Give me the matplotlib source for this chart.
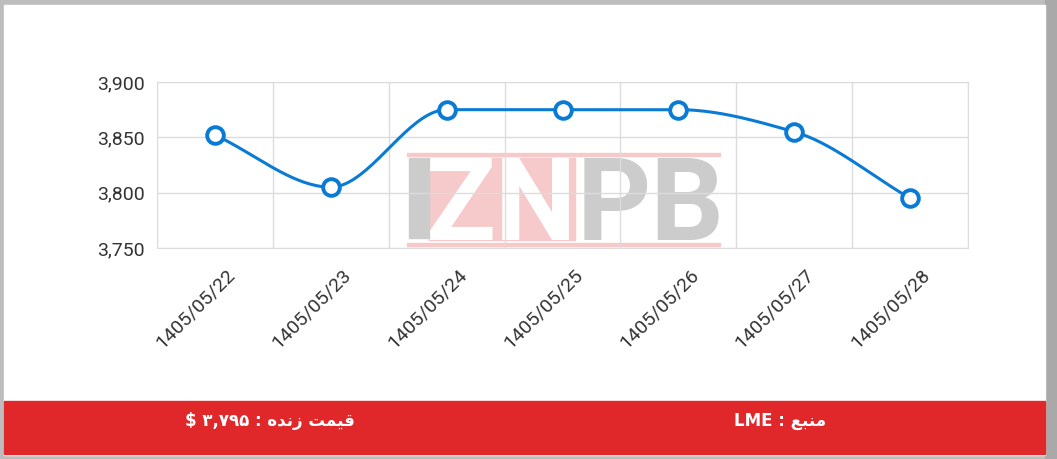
import matplotlib
matplotlib.use('Agg')
import matplotlib.pyplot as plt
import matplotlib.transforms as mtransforms
import numpy as np
from matplotlib.patches import Rectangle

# data
dates = ['1405/05/22', '1405/05/23', '1405/05/24', '1405/05/25',
         '1405/05/26', '1405/05/27', '1405/05/28']
prices = [3852, 3805, 3875, 3875, 3875, 3855, 3795]
y_ticks = [3750, 3800, 3850, 3900]

# footer text (Persian, pre-shaped into presentation forms, visual order)
live_label = '$ \u06f3,\u06f7\u06f9\u06f5 : ' + '\uFEE9\uFEAA\uFEE7\uFEAF' + ' ' + '\uFE96\uFEE4\uFEF4\uFED7'
source_label = 'LME : ' + '\uFECA\uFE92\uFEE8\uFEE3'

W, H = 1057, 459
fig = plt.figure(figsize=(W / 100, H / 100), dpi=100)

# background layer in pixel coordinates
bg = fig.add_axes([0, 0, 1, 1], zorder=0)
bg.set_xlim(0, W)
bg.set_ylim(H, 0)
bg.axis('off')
bg.add_patch(Rectangle((0, 0), W, H, color='#bdbdbd'))
bg.add_patch(Rectangle((1045, 0), 12, H, color='#a9a9a9'))
bg.add_patch(Rectangle((4, 5), 1041, 450, color='white'))
bg.add_patch(Rectangle((4, 401), 1041, 53, color='#e0282b'))
bg.text(270, 421, live_label, color='white', fontsize=12, fontweight='bold',
        ha='center', va='center', family='DejaVu Sans')
bg.text(780, 421, source_label, color='white', fontsize=12, fontweight='bold',
        ha='center', va='center', family='DejaVu Sans')

# watermark
pink = '#f6caca'
bg.add_patch(Rectangle((407, 153), 313, 3, color=pink))
bg.add_patch(Rectangle((407, 243), 313, 3, color=pink))
bg.add_patch(Rectangle((429, 158), 146, 82, color=pink))
bg.add_patch(Rectangle((409, 158), 20, 80, color='#cccccc'))
bg.text(502, 240, 'ZN', color='white', fontsize=83, fontweight='bold',
        ha='center', va='baseline', family='Roboto')
bg.text(651, 240, 'PB', color='#cccccc', fontsize=83, fontweight='bold',
        ha='center', va='baseline', family='Roboto')

# chart
left, right, top, bottom = 157, 968, 82, 248
ax = fig.add_axes([left / W, 1 - bottom / H, (right - left) / W, (bottom - top) / H],
                  zorder=1)
ax.patch.set_alpha(0)

x = np.arange(len(prices))
y = np.array(prices, dtype=float)

# monotone cubic interpolation (Fritsch-Carlson)
h = np.diff(x)
d = np.diff(y) / h
m = np.zeros_like(y)
m[0], m[-1] = d[0], d[-1]
for i in range(1, len(y) - 1):
    if d[i - 1] * d[i] <= 0:
        m[i] = 0
    else:
        m[i] = 2 / (1 / d[i - 1] + 1 / d[i])
xs, ys = [], []
for i in range(len(y) - 1):
    t = np.linspace(0, 1, 40)
    h00 = 2 * t**3 - 3 * t**2 + 1
    h10 = t**3 - 2 * t**2 + t
    h01 = -2 * t**3 + 3 * t**2
    h11 = t**3 - t**2
    xs.append(x[i] + t * h[i])
    ys.append(h00 * y[i] + h10 * h[i] * m[i] + h01 * y[i + 1] + h11 * h[i] * m[i + 1])
ax.plot(np.concatenate(xs), np.concatenate(ys), color='#0a7bd5', lw=2.2, zorder=3)
ax.plot(x, y, 'o', ms=12, mfc='white', mec='#0a7bd5', mew=2.8, zorder=4)

ax.set_xlim(-0.5, len(prices) - 0.5)
ax.set_ylim(3750, 3900)
ax.set_yticks(y_ticks)
ax.set_yticklabels([f'{v:,}' for v in y_ticks], fontsize=14, family='Roboto', color='#333333')
ax.set_xticks(np.arange(len(prices) + 1) - 0.5, minor=False)
ax.set_xticklabels([])
ax.set_xticks(x, minor=True)
ax.set_xticklabels(dates, minor=True, rotation=45, ha='right', rotation_mode='anchor',
                   fontsize=14, family='Roboto', color='#333333')
ax.tick_params(axis='x', which='both', length=0, pad=13)
ax.tick_params(axis='y', length=0, pad=9)
shift = mtransforms.ScaledTranslation(11 / 100, 0, fig.dpi_scale_trans)
for lab in ax.get_xticklabels(minor=True):
    lab.set_transform(lab.get_transform() + shift)
ax.grid(True, which='major', color='#dcdcdc', lw=1)
for s in ax.spines.values():
    s.set_color('#dcdcdc')

fig.savefig('out.png', dpi=100)
